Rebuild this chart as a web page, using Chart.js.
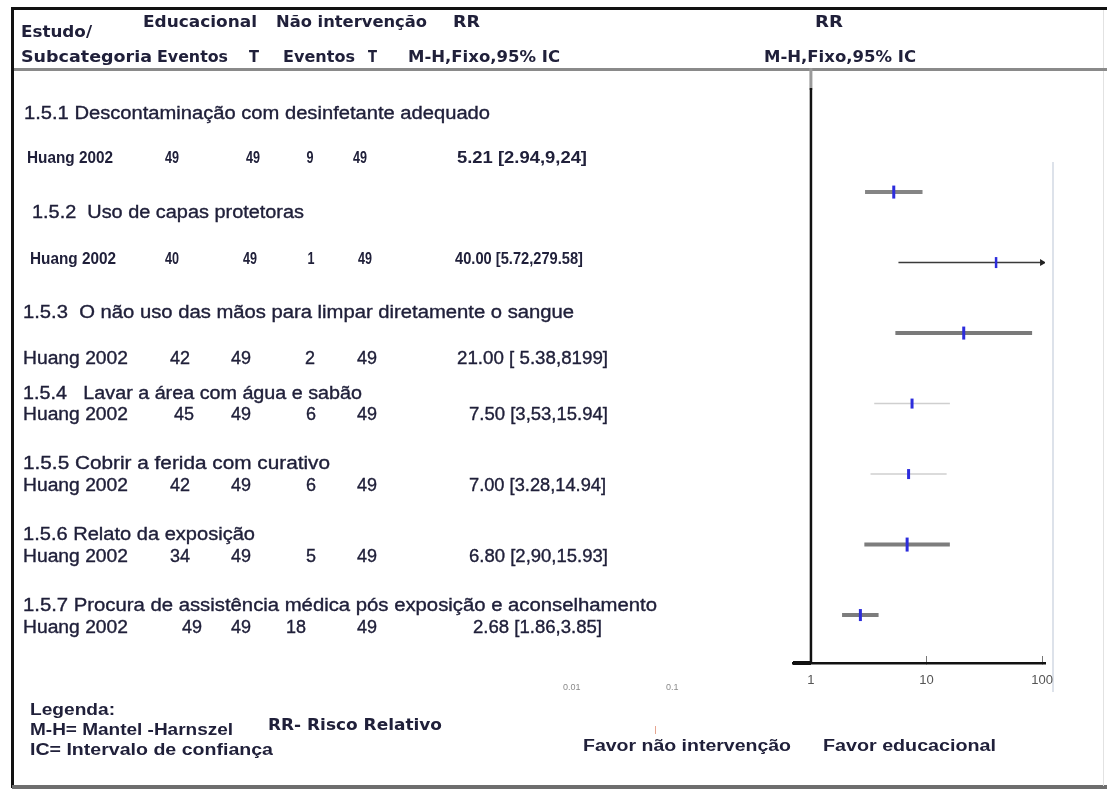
<!DOCTYPE html>
<html lang="pt">
<head>
<meta charset="utf-8">
<title>RR - Educacional vs Não intervenção</title>
<script src="https://cdn.jsdelivr.net/npm/chart.js@4.4.1/dist/chart.umd.min.js"></script>
<style>
  html, body { margin: 0; padding: 0; background: #fff; }
  canvas { display: block; }
</style>
</head>
<body>
<canvas id="forest" width="1107" height="791"></canvas>
<script>
// --- data ---
const subgroups = [
	"1.5.1 Descontaminação com desinfetante adequado",
	"1.5.2  Uso de capas protetoras",
	"1.5.3  O não uso das mãos para limpar diretamente o sangue",
	"1.5.4   Lavar a área com água e sabão",
	"1.5.5 Cobrir a ferida com curativo",
	"1.5.6 Relato da exposição",
	"1.5.7 Procura de assistência médica pós exposição e aconselhamento",
];
const studies = ["Huang 2002", "Huang 2002", "Huang 2002", "Huang 2002", "Huang 2002", "Huang 2002", "Huang 2002"];
const eventsEdu = [49, 40, 42, 45, 42, 34, 49];
const totalEdu = [49, 49, 49, 49, 49, 49, 49];
const eventsCtrl = [9, 1, 2, 6, 6, 5, 18];
const totalCtrl = [49, 49, 49, 49, 49, 49, 49];
const rr = [5.21, 40.0, 21.0, 7.5, 7.0, 6.8, 2.68];
const ciLow = [2.94, 5.72, 5.38, 3.53, 3.28, 2.9, 1.86];
const ciHigh = [9.24, 279.58, 81.99, 15.94, 14.94, 15.93, 3.85];
// printed as in the original table (typos kept)
const ciLabels = [
	"5.21 [2.94,9,24]",
	"40.00 [5.72,279.58]",
	"21.00 [ 5.38,8199]",
	"7.50 [3,53,15.94]",
	"7.00 [3.28,14.94]",
	"6.80 [2,90,15.93]",
	"2.68 [1.86,3.85]",
];
const xTicks = [1, 10, 100];
const clipMax = 100; // CI beyond this gets an arrow

// --- styles / layout ---
const ciStyle = [
	{ color: "#858585", width: 4 },
	{ color: "#3a3a3a", width: 1.5 },
	{ color: "#7a7a7a", width: 4 },
	{ color: "#cfcfcf", width: 1.5 },
	{ color: "#cfcfcf", width: 1.5 },
	{ color: "#7d7d7d", width: 4 },
	{ color: "#7d7d7d", width: 4 },
];
const tickHalf = [6.5, 5.5, 6.5, 5, 5, 7, 6];
const tickWidth = [3, 2.5, 3, 3, 3, 3, 3];

const headingY = [113, 212, 312, 393, 463, 534, 605];
const headingX = [24, 32, 23, 23, 23, 23, 23];
const headingW = [466, 272, 551, 339, 307, 232, 634];
const studyY = [157, 258, 358, 414, 485, 556, 627];
// centres of the four count columns, left edge of the RR text
const colX = [
	[172, 253, 310, 360, 457],
	[172, 250, 311, 365, 455],
	[180, 241, 310, 367, 457],
	[184, 241, 311, 367, 469],
	[180, 241, 311, 367, 469],
	[180, 241, 311, 367, 469],
	[192, 241, 296, 367, 473],
];
const ciTextW = [130, 128, 151, 139, 137, 139, 129];

const INK = "#20203a";
const SANS = "'Liberation Sans', Arial, sans-serif";
const WIDE = "'DejaVu Sans', Verdana, sans-serif";

// draws text with its caps centred on yc, squeezed or stretched to width w
function fitText(ctx, str, x, yc, w, size, font, opts = {}) {
	ctx.save();
	ctx.font = font;
	ctx.fillStyle = opts.color || INK;
	ctx.strokeStyle = opts.color || INK;
	ctx.textBaseline = "alphabetic";
	ctx.textAlign = "left";
	const m = ctx.measureText(str).width;
	const sx = w ? w / m : opts.sx || 1;
	let left = x;
	if (opts.align === "center") left = x - (m * sx) / 2;
	ctx.translate(left, yc + size * 0.36);
	ctx.scale(sx, 1);
	ctx.fillText(str, 0, 0);
	if (opts.heavy) {
		ctx.lineWidth = opts.heavy;
		ctx.strokeText(str, 0, 0);
	}
	ctx.restore();
}

const framePlugin = {
	id: "frame",
	beforeDraw(chart) {
		const ctx = chart.ctx;
		ctx.save();
		ctx.fillStyle = "#fff";
		ctx.fillRect(0, 0, chart.width, chart.height);
		// outer box
		ctx.fillStyle = "#111";
		ctx.fillRect(12, 7, 1095, 3);
		ctx.fillRect(11, 7, 3, 781);
		ctx.fillStyle = "#6e6e6e";
		ctx.fillRect(12, 785, 1095, 4);
		ctx.fillStyle = "#e2e2e2";
		ctx.fillRect(1103, 10, 1, 776);
		// header rule
		ctx.fillStyle = "#8a8a8a";
		ctx.fillRect(14, 68, 1093, 3);
		// faint right frame of the plot
		ctx.fillStyle = "#dde2ea";
		ctx.fillRect(1052, 162, 2, 530);
		ctx.restore();
	},
	beforeDatasetsDraw(chart) {
		const ctx = chart.ctx;
		const xs = chart.scales.x;
		const ys = chart.scales.y;
		const x1 = xs.getPixelForValue(1);
		ctx.save();
		ctx.fillStyle = "#9a9a9a";
		ctx.fillRect(x1 - 1.5, 68, 3, 22);
		ctx.fillStyle = "#111";
		ctx.fillRect(x1 - 1.2, 88, 2.5, ys.bottom - 88);
		// heavy stub of the axis left of 1
		ctx.fillRect(xs.left, ys.bottom - 2, x1 - xs.left, 4);
		ctx.restore();
	},
	afterDraw(chart) {
		const ctx = chart.ctx;
		// header
		const hb = (s) => `bold ${s}px ${WIDE}`;
		fitText(ctx, "Estudo/", 21, 31, 71, 16, hb(16));
		fitText(ctx, "Educacional", 143, 21.5, 114, 16, hb(16));
		fitText(ctx, "Não intervenção", 276, 21.5, 151, 16, hb(16));
		fitText(ctx, "RR", 453, 21.5, 27, 16, hb(16));
		fitText(ctx, "Subcategoria", 21, 56.5, 131, 16, hb(16));
		fitText(ctx, "Eventos", 157, 56.5, 71, 16, hb(16));
		fitText(ctx, "T", 249, 56.5, 10, 16, hb(16));
		fitText(ctx, "Eventos", 283, 56.5, 72, 16, hb(16));
		fitText(ctx, "T", 368, 56.5, 9, 16, hb(16));
		fitText(ctx, "M-H,Fixo,95% IC", 408, 56.5, 152, 16, hb(16));
		fitText(ctx, "RR", 815, 21.5, 28, 16, hb(16));
		fitText(ctx, "M-H,Fixo,95% IC", 764, 56.5, 152, 16, hb(16));

		// body rows
		subgroups.forEach((label, i) => {
			fitText(ctx, label, headingX[i], headingY[i], headingW[i], 18, `18px ${SANS}`, { heavy: 0.35 });
			const small = i < 2;
			const size = small ? 17 : 18;
			const font = small ? `bold 17px ${SANS}` : `18px ${SANS}`;
			const opts = small ? { sx: 0.74, align: "center" } : { heavy: 0.35, align: "center" };
			const y = studyY[i];
			const cx = colX[i];
			fitText(ctx, studies[i], small ? 27 + i * 3 : 23, y, small ? 86 : 105, size, font, { heavy: opts.heavy });
			[eventsEdu[i], totalEdu[i], eventsCtrl[i], totalCtrl[i]].forEach((v, k) => {
				fitText(ctx, String(v), cx[k], y, null, size, font, opts);
			});
			fitText(ctx, ciLabels[i], cx[4], y, ciTextW[i], size, font, { heavy: opts.heavy });
		});

		// faint leftover axis labels
		ctx.save();
		ctx.beginPath();
		ctx.rect(540, 684, 160, 10);
		ctx.clip();
		ctx.fillStyle = "#8a8a8a";
		ctx.font = `9px ${SANS}`;
		ctx.textBaseline = "alphabetic";
		ctx.fillText("0.01", 563, 690);
		ctx.fillText("0.1", 666, 690);
		ctx.restore();
		ctx.fillStyle = "#e7a58f";
		ctx.fillRect(655, 726, 1, 8);

		// legend / footer
		const nb = (s) => `bold ${s}px ${SANS}`;
		fitText(ctx, "Legenda:", 30, 709, 85, 16, nb(16));
		fitText(ctx, "M-H= Mantel -Harnszel", 30, 729, 203, 16, nb(16));
		fitText(ctx, "RR- Risco Relativo", 268, 725, 174, 15, hb(15));
		fitText(ctx, "IC= Intervalo de confiança", 30, 749, 243, 16, nb(16));
		fitText(ctx, "Favor não intervenção", 583, 745, 208, 16, nb(16));
		fitText(ctx, "Favor educacional", 823, 745, 173, 16, nb(16));
	},
};

const rows = subgroups.map((_, i) => i);

const ciDatasets = rows.map((i) => ({
	label: subgroups[i],
	data: [
		{ x: ciLow[i], y: i },
		{ x: Math.min(ciHigh[i], clipMax), y: i },
	],
	showLine: true,
	borderColor: ciStyle[i].color,
	borderWidth: ciStyle[i].width,
	borderCapStyle: "butt",
	pointRadius: 0,
	order: 3,
}));

const arrowRows = rows.filter((i) => ciHigh[i] > clipMax);

new Chart(document.getElementById("forest"), {
	type: "scatter",
	data: {
		datasets: [
			...ciDatasets,
			{
				label: "arrow",
				data: arrowRows.map((i) => ({ x: clipMax, y: i })),
				pointStyle: "triangle",
				rotation: 90,
				pointRadius: 4,
				backgroundColor: "#222",
				borderColor: "#222",
				borderWidth: 0,
				order: 2,
			},
			{
				label: "RR",
				data: rows.map((i) => ({ x: rr[i], y: i })),
				pointStyle: "line",
				rotation: 90,
				pointRadius: tickHalf,
				borderWidth: tickWidth,
				borderColor: "#2c2cdc",
				order: 1,
			},
		],
	},
	options: {
		responsive: false,
		animation: false,
		events: [],
		layout: {
			padding: { left: 793, right: 62, top: 68, bottom: 106 },
		},
		plugins: {
			legend: { display: false },
			tooltip: { enabled: false },
		},
		scales: {
			x: {
				type: "logarithmic",
				min: 0.745,
				max: 106,
				afterBuildTicks: (scale) => {
					scale.ticks = xTicks.map((v) => ({ value: v }));
				},
				afterFit: (scale) => {
					scale.height = 22;
				},
				border: { color: "#111", width: 2.5 },
				grid: {
					drawOnChartArea: false,
					drawTicks: true,
					tickLength: -7,
					tickColor: "#777",
				},
				ticks: {
					padding: 17,
					color: "#555",
					font: { family: SANS, size: 13 },
					maxRotation: 0,
					callback: (v) => String(v),
				},
			},
			y: {
				type: "linear",
				reverse: true,
				min: -1.76,
				max: 6.68,
				display: false,
			},
		},
	},
	plugins: [framePlugin],
});
</script>
</body>
</html>
